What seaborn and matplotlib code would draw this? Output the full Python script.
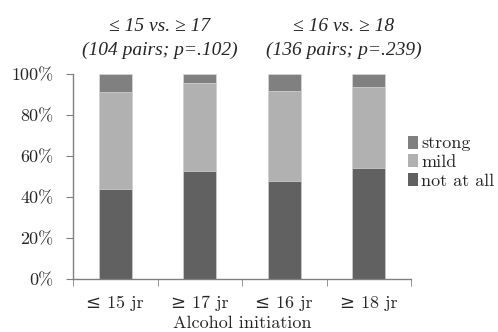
import numpy as np
import pandas as pd
import matplotlib
matplotlib.use("Agg")
import matplotlib.pyplot as plt
import matplotlib.ticker as mticker
from matplotlib.patches import Patch
import seaborn as sns

# Data (percent of respondents)
groups = ["≤ 15 jr", "≥ 17 jr", "≤ 16 jr", "≥ 18 jr"]
not_at_all = [43.8, 52.8, 47.7, 54.1]
mild = [47.3, 42.7, 44.2, 39.4]
strong = [8.9, 4.5, 8.1, 6.5]
levels = ["not at all", "mild", "strong"]
colors = {"not at all": "#616161", "mild": "#b1b1b1", "strong": "#808080"}
titles = ["≤ 15 vs. ≥ 17\n(104 pairs; p=.102)", "≤ 16 vs. ≥ 18\n(136 pairs; p=.239)"]

sns.set_style("white")
plt.rcParams["font.family"] = ["cmr10", "DejaVu Serif"]
plt.rcParams["axes.formatter.use_mathtext"] = True
fs = 13

df = pd.DataFrame({"group": groups, "not at all": not_at_all,
                   "mild": mild, "strong": strong})
# cumulative tops, drawn back to front
df["top_mild"] = df["not at all"] + df["mild"]
df["top_strong"] = df["top_mild"] + df["strong"]

fig = plt.figure(figsize=(4.98, 3.32), dpi=100)
ax = fig.add_axes([0.1466, 0.1596, 0.6787, 0.6175])

for col, lev in [("top_strong", "strong"), ("top_mild", "mild"), ("not at all", "not at all")]:
    sns.barplot(data=df, x="group", y=col, color=colors[lev], width=0.39,
                saturation=1, edgecolor="#d8d8d8", linewidth=0.5, ax=ax)

ax.set_ylim(0, 100)
ax.set_xlim(-0.5, 3.5)
ax.yaxis.set_major_locator(mticker.MultipleLocator(20))
ax.yaxis.set_major_formatter(mticker.FuncFormatter(lambda v, p: f"{v:.0f}%"))
ax.set_xticks(np.arange(-0.5, 4, 1), minor=True)
ax.tick_params(axis="x", which="major", length=0, pad=12, labelsize=fs)
ax.tick_params(axis="x", which="minor", length=5, color="#808080", direction="out", bottom=True)
ax.tick_params(axis="y", length=5, color="#808080", direction="out", left=True,
               labelsize=fs, pad=9)
ax.set_ylabel("")
ax.set_xlabel("Alcohol initiation", fontsize=fs, labelpad=3)
sns.despine(ax=ax)
for s in ["left", "bottom"]:
    ax.spines[s].set_color("#808080")
    ax.spines[s].set_linewidth(1)

for xpos, t in zip([0.53, 2.7], titles):
    ax.text(xpos, 1.075, t, transform=ax.get_xaxis_transform(), ha="center", va="bottom",
            fontsize=14, style="italic", family=["Liberation Serif", "DejaVu Serif"],
            linespacing=1.45)

handles = [Patch(facecolor=colors[l], edgecolor="none") for l in ["strong", "mild", "not at all"]]
ax.legend(handles, ["strong", "mild", "not at all"], loc="center left",
          bbox_to_anchor=(0.99, 0.57), frameon=False, fontsize=fs,
          handlelength=0.55, handleheight=0.75, handletextpad=0.2, labelspacing=0.15,
          borderaxespad=0.0, borderpad=0.0)

fig.savefig("out.png", dpi=100)
